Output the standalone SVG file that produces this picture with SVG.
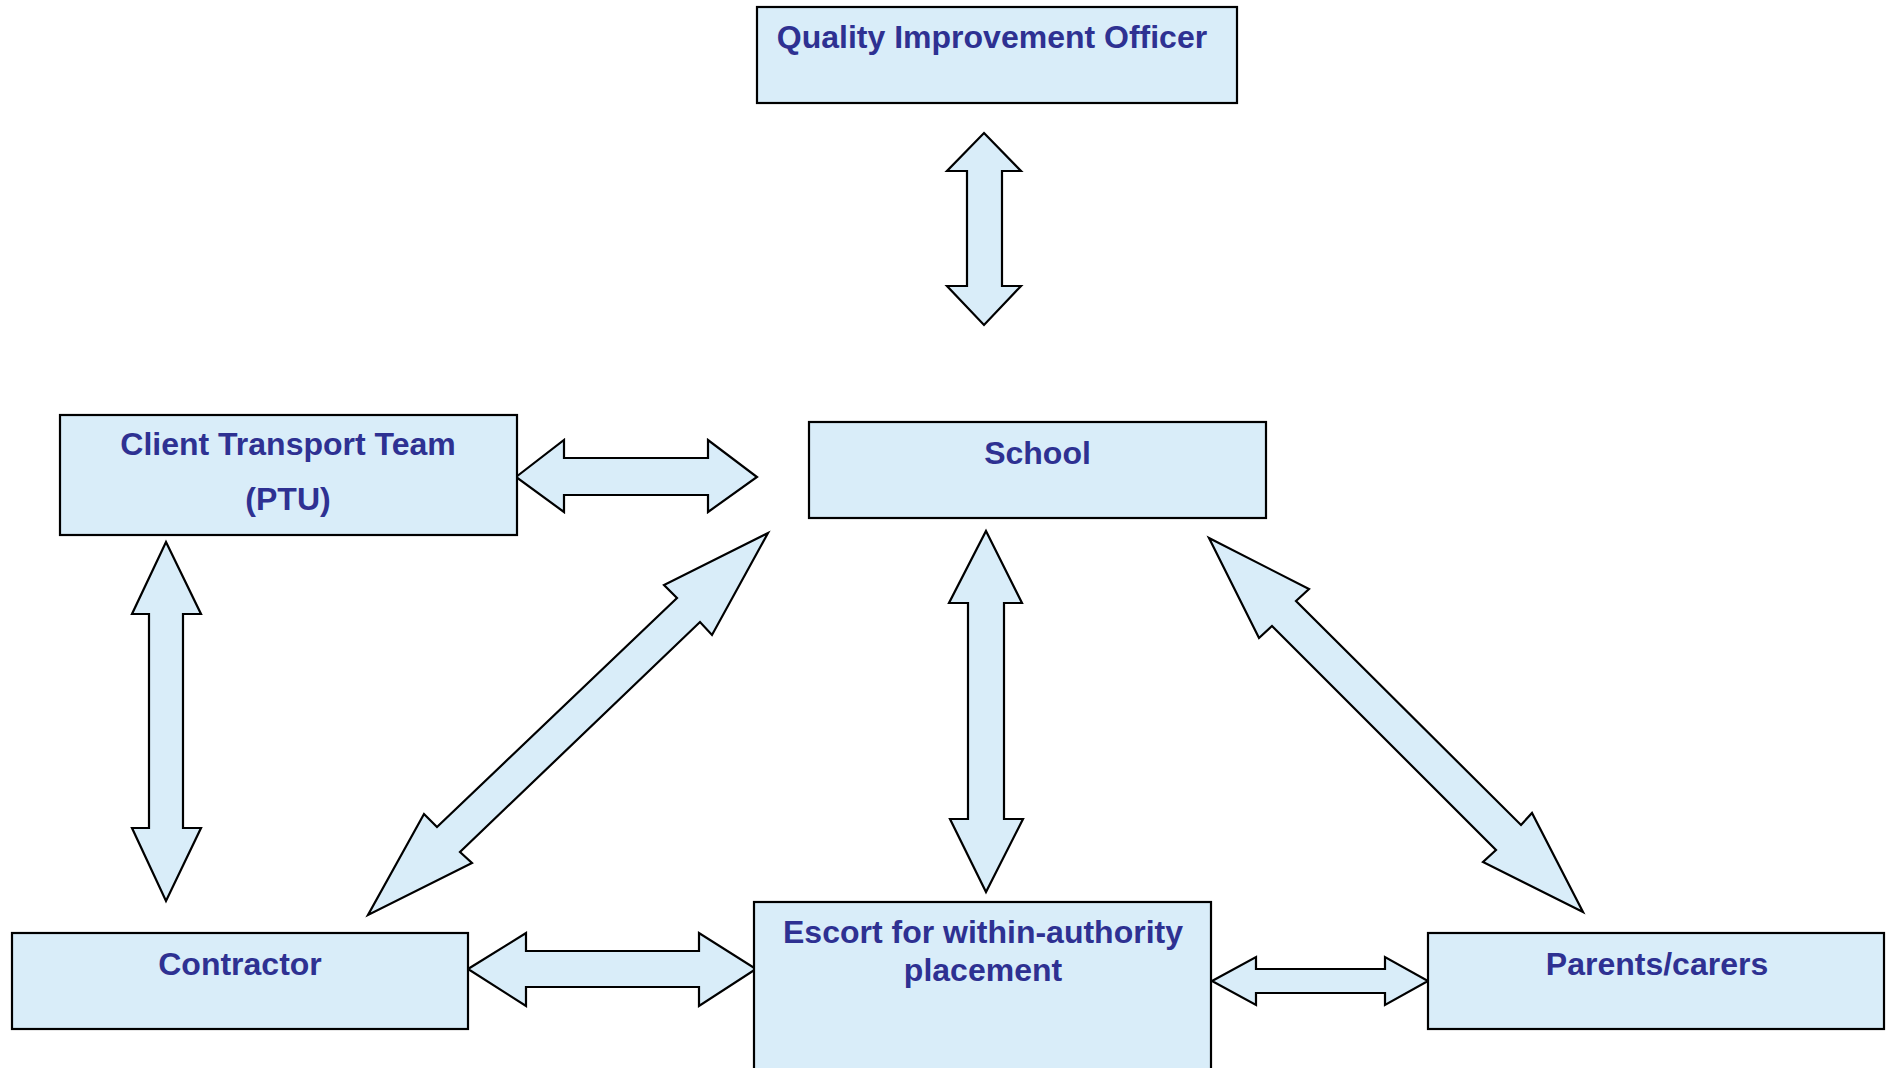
<svg xmlns="http://www.w3.org/2000/svg" width="1888" height="1068" viewBox="0 0 1888 1068">
  <style>
    .box { fill: #D9EDF9; stroke: #000; stroke-width: 2.2; }
    .arrow { fill: #D9EDF9; stroke: #000; stroke-width: 2.2; stroke-linejoin: miter; }
    .label { font-family: "Liberation Sans", Arial, sans-serif; font-weight: bold; font-size: 32px; fill: #2E3192; text-anchor: middle; }
  </style>
  <rect width="1888" height="1068" fill="#fff"/>

  <!-- connectors: block double arrows -->
  <g id="connectors">
    <!-- Quality Improvement Officer <-> School -->
    <polygon class="arrow" points="984,133 1021,171 1002,171 1002,286 1021,286 984,325 947,286 967,286 967,171 947,171"/>
    <!-- Client Transport Team <-> School -->
    <polygon class="arrow" points="516,477 564,440 564,458 708,458 708,440 757,477 708,512 708,495 564,495 564,512"/>
    <!-- Client Transport Team <-> Contractor -->
    <polygon class="arrow" points="166,542 201,614 183,614 183,828 201,828 166,901 132,828 149,828 149,614 132,614"/>
    <!-- School <-> Contractor -->
    <polygon class="arrow" points="768,533 712,635 700,622 460,852 472,863 368,915 424,814 437,827 677,598 664,585"/>
    <!-- School <-> Escort -->
    <polygon class="arrow" points="986,531 1022,603 1004,603 1004,819 1023,819 986,892 950,819 968,819 968,603 949,603"/>
    <!-- School <-> Parents/carers -->
    <polygon class="arrow" points="1209,538 1309,589 1296,601 1521,825 1532,813 1583,912 1483,862 1496,850 1272,626 1259,638"/>
    <!-- Contractor <-> Escort -->
    <polygon class="arrow" points="468,969 526,933 526,951 699,951 699,933 756,969 699,1006 699,987 526,987 526,1006"/>
    <!-- Escort <-> Parents/carers -->
    <polygon class="arrow" points="1212,981 1256,957 1256,969 1385,969 1385,957 1428,981 1385,1005 1385,993 1256,993 1256,1005"/>
  </g>

  <g id="node-qio">
    <rect class="box" x="757" y="7" width="480" height="96"/>
    <text class="label" x="992" y="48">Quality Improvement Officer</text>
  </g>

  <g id="node-ctt">
    <rect class="box" x="60" y="415" width="457" height="120"/>
    <text class="label" x="288" y="455">Client Transport Team</text>
    <text class="label" x="288" y="510">(PTU)</text>
  </g>

  <g id="node-school">
    <rect class="box" x="809" y="422" width="457" height="96"/>
    <text class="label" x="1037.5" y="464">School</text>
  </g>

  <g id="node-contractor">
    <rect class="box" x="12" y="933" width="456" height="96"/>
    <text class="label" x="240" y="975">Contractor</text>
  </g>

  <g id="node-escort">
    <rect class="box" x="754" y="902" width="457" height="180"/>
    <text class="label" x="983" y="943">Escort for within-authority</text>
    <text class="label" x="983" y="981">placement</text>
  </g>

  <g id="node-parents">
    <rect class="box" x="1428" y="933" width="456" height="96"/>
    <text class="label" x="1657" y="975">Parents/carers</text>
  </g>
</svg>
